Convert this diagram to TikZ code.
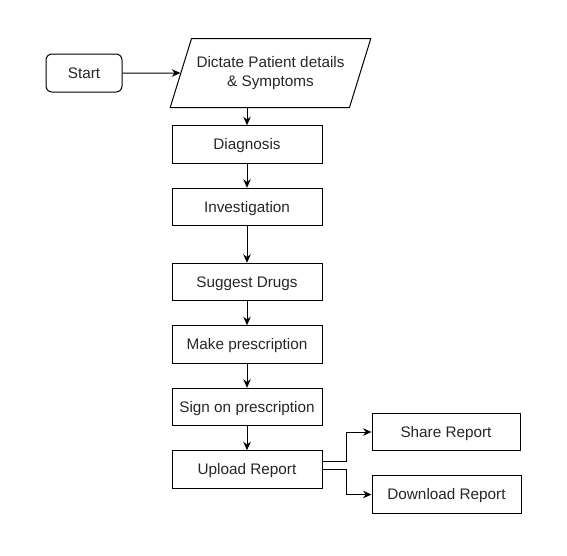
\documentclass[tikz,border=0pt]{standalone}
\usepackage{fontspec}
\setmainfont{Liberation Sans}
\usetikzlibrary{shapes.geometric,arrows.meta}
\begin{document}
\begin{tikzpicture}[x=1pt,y=-1pt,
  every node/.style={font=\fontsize{15.3}{19}\selectfont, text=black!85},
  procbox/.style={draw, line width=1pt, minimum width=150pt, minimum height=37.5pt, inner sep=0pt, text height=10.8pt, text depth=0pt},
  startbox/.style={draw, line width=1pt, rounded corners=6pt, minimum width=76pt, minimum height=38pt, inner sep=0pt, text height=10.8pt, text depth=0pt},
  iobox/.style={draw, line width=1pt, trapezium, trapezium left angle=59, trapezium right angle=121, trapezium stretches=true, minimum width=201pt, minimum height=69pt, inner sep=0pt, align=center},
  arr/.style={draw, line width=1pt, -{Stealth[length=8.5pt,width=7.5pt]}}
]
\useasboundingbox (0,0) rectangle (567,555);
\node[startbox] (start) at (84,73) {Start};
\node[iobox] (dict) at (270.5,73) {Dictate Patient details\\\& Symptoms};
\node[procbox] (diag) at (247,144.5) {Diagnosis};
\node[procbox] (inv) at (247,207) {Investigation};
\node[procbox] (drugs) at (247,282) {Suggest Drugs};
\node[procbox] (make) at (247,344.5) {Make prescription};
\node[procbox] (sign) at (247,407) {Sign on prescription};
\node[procbox] (upload) at (247,469.5) {Upload Report};
\node[procbox, minimum width=148pt] (share) at (446,432) {Share Report};
\node[procbox, minimum width=149pt] (down) at (446.5,494.5) {Download Report};

\draw[arr] (start) -- (dict);
\draw[arr] (diag.north |- dict.south) -- (diag.north);
\draw[arr] (diag) -- (inv);
\draw[arr] (inv) -- (drugs);
\draw[arr] (drugs) -- (make);
\draw[arr] (make) -- (sign);
\draw[arr] (sign) -- (upload);
\draw[arr] ([yshift=8.5pt]upload.east) -- ++(24,0) |- (share.west);
\draw[arr] (upload.east) -- ++(24,0) |- (down.west);
\end{tikzpicture}
\end{document}
